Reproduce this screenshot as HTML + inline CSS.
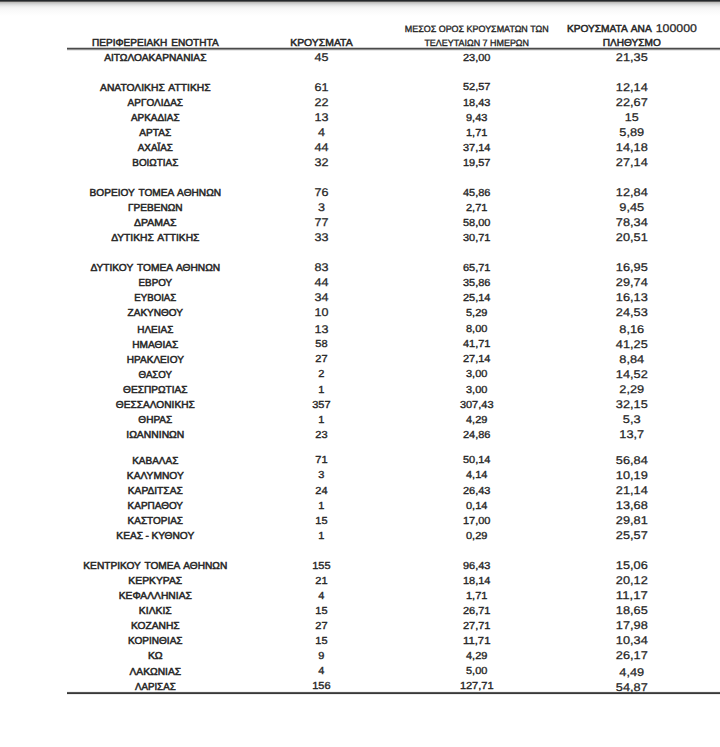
<!DOCTYPE html>
<html><head><meta charset="utf-8"><title>table</title>
<style>
html,body{margin:0;padding:0;background:#fff;}
body{width:720px;height:747px;overflow:hidden;}
svg{display:block;position:absolute;left:0;top:0;}
body{position:relative;}
.top{position:absolute;left:0;top:0;width:720px;height:16px;background:linear-gradient(to bottom,#25282b 0px,#25282b 1px,#5c5c5c 1.5px,#b9b8b6 2px,#c7c6c4 3px,#d5d6d7 4px,#e0e1e2 5px,#eaeaea 6px,#f1f1f1 7px,#f5f5f5 8px,#f9f9f9 10px,#fbfbfb 12px,#fdfdfd 14px,#fff 16px);}
text{font-family:"Liberation Sans",sans-serif;fill:#262626;text-anchor:middle;stroke:#262626;stroke-width:0.5px;word-spacing:1.2px;text-rendering:geometricPrecision;}
.a{stroke-width:0.25px;}
.n{stroke-width:0.35px;}
.h{stroke-width:0.35px;word-spacing:0;}
.k{word-spacing:-0.3px;}
</style></head><body>
<div class="top"></div>
<svg width="720" height="747" viewBox="0 0 720 747">
<rect x="67" y="47" width="653" height="1" fill="#d0d0d0"/><rect x="67" y="48" width="653" height="1" fill="#4a4a4a"/><rect x="67" y="49" width="653" height="1" fill="#909090"/><rect x="67" y="50" width="653" height="1" fill="#e8e8e8"/>
<rect x="67" y="691" width="653" height="1" fill="#f2f2f2"/><rect x="67" y="692" width="653" height="1" fill="#555"/><rect x="67" y="693" width="653" height="1" fill="#383838"/><rect x="67" y="694" width="653" height="1" fill="#ececec"/>
<text x="155.30" y="46" font-size="10.2" textLength="126.70" lengthAdjust="spacingAndGlyphs">ΠΕΡΙΦΕΡΕΙΑΚΗ ΕΝΟΤΗΤΑ</text>
<text x="321.40" y="46" font-size="10.2" textLength="62.40" lengthAdjust="spacingAndGlyphs">ΚΡΟΥΣΜΑΤΑ</text>
<text class="h" x="476.70" y="32" font-size="9.2" textLength="143.80" lengthAdjust="spacingAndGlyphs">ΜΕΣΟΣ ΟΡΟΣ ΚΡΟΥΣΜΑΤΩΝ ΤΩΝ</text>
<text class="h" x="476.70" y="46" font-size="9.2" textLength="104.60" lengthAdjust="spacingAndGlyphs">ΤΕΛΕΥΤΑΙΩΝ 7 ΗΜΕΡΩΝ</text>
<text x="566.90" y="32" font-size="10.2" style="text-anchor:start" textLength="84.80" lengthAdjust="spacingAndGlyphs">ΚΡΟΥΣΜΑΤΑ ΑΝΑ</text>
<text x="696.90" y="32" class="a" font-size="11.2" style="text-anchor:end" textLength="41.20" lengthAdjust="spacingAndGlyphs">100000</text>
<text x="631.80" y="46" font-size="10.2" textLength="58.10" lengthAdjust="spacingAndGlyphs">ΠΛΗΘΥΣΜΟ</text>
<text x="155.30" y="61" font-size="10.2" textLength="102.30" lengthAdjust="spacingAndGlyphs">ΑΙΤΩΛΟΑΚΑΡΝΑΝΙΑΣ</text>
<text class="a" x="321.40" y="61" font-size="11.2" textLength="14.00" lengthAdjust="spacingAndGlyphs">45</text>
<text class="n" x="476.70" y="61" font-size="10.2" textLength="27.52" lengthAdjust="spacingAndGlyphs">23,00</text>
<text class="a" x="631.80" y="61" font-size="11.2" textLength="31.90" lengthAdjust="spacingAndGlyphs">21,35</text>
<text x="155.30" y="91" font-size="10.2" textLength="110.60" lengthAdjust="spacingAndGlyphs">ΑΝΑΤΟΛΙΚΗΣ ΑΤΤΙΚΗΣ</text>
<text class="a" x="321.40" y="91" font-size="11.2" textLength="14.00" lengthAdjust="spacingAndGlyphs">61</text>
<text class="n" x="476.70" y="90" font-size="10.2" textLength="27.52" lengthAdjust="spacingAndGlyphs">52,57</text>
<text class="a" x="631.80" y="91" font-size="11.2" textLength="31.90" lengthAdjust="spacingAndGlyphs">12,14</text>
<text x="155.30" y="106" font-size="10.2" textLength="55.40" lengthAdjust="spacingAndGlyphs">ΑΡΓΟΛΙΔΑΣ</text>
<text class="a" x="321.40" y="106" font-size="11.2" textLength="14.00" lengthAdjust="spacingAndGlyphs">22</text>
<text class="n" x="476.70" y="106" font-size="10.2" textLength="27.52" lengthAdjust="spacingAndGlyphs">18,43</text>
<text class="a" x="631.80" y="106" font-size="11.2" textLength="31.90" lengthAdjust="spacingAndGlyphs">22,67</text>
<text x="155.30" y="121" font-size="10.2" textLength="48.70" lengthAdjust="spacingAndGlyphs">ΑΡΚΑΔΙΑΣ</text>
<text class="a" x="321.40" y="121" font-size="11.2" textLength="14.00" lengthAdjust="spacingAndGlyphs">13</text>
<text class="n" x="476.70" y="121" font-size="10.2" textLength="21.39" lengthAdjust="spacingAndGlyphs">9,43</text>
<text class="a" x="631.80" y="121" font-size="11.2" textLength="14.00" lengthAdjust="spacingAndGlyphs">15</text>
<text x="155.30" y="136" font-size="10.2" textLength="31.90" lengthAdjust="spacingAndGlyphs">ΑΡΤΑΣ</text>
<text class="a" x="321.40" y="136" font-size="11.2" textLength="7.00" lengthAdjust="spacingAndGlyphs">4</text>
<text class="n" x="476.70" y="136" font-size="10.2" textLength="21.39" lengthAdjust="spacingAndGlyphs">1,71</text>
<text class="a" x="631.80" y="136" font-size="11.2" textLength="24.90" lengthAdjust="spacingAndGlyphs">5,89</text>
<text x="155.30" y="151" font-size="10.2" textLength="35.00" lengthAdjust="spacingAndGlyphs">ΑΧΑΪΑΣ</text>
<text class="a" x="321.40" y="151" font-size="11.2" textLength="14.00" lengthAdjust="spacingAndGlyphs">44</text>
<text class="n" x="476.70" y="151" font-size="10.2" textLength="27.52" lengthAdjust="spacingAndGlyphs">37,14</text>
<text class="a" x="631.80" y="151" font-size="11.2" textLength="31.90" lengthAdjust="spacingAndGlyphs">14,18</text>
<text x="155.30" y="166" font-size="10.2" textLength="46.00" lengthAdjust="spacingAndGlyphs">ΒΟΙΩΤΙΑΣ</text>
<text class="a" x="321.40" y="166" font-size="11.2" textLength="14.00" lengthAdjust="spacingAndGlyphs">32</text>
<text class="n" x="476.70" y="166" font-size="10.2" textLength="27.52" lengthAdjust="spacingAndGlyphs">19,57</text>
<text class="a" x="631.80" y="166" font-size="11.2" textLength="31.90" lengthAdjust="spacingAndGlyphs">27,14</text>
<text x="155.30" y="196" font-size="10.2" textLength="131.40" lengthAdjust="spacingAndGlyphs">ΒΟΡΕΙΟΥ ΤΟΜΕΑ ΑΘΗΝΩΝ</text>
<text class="a" x="321.40" y="196" font-size="11.2" textLength="14.00" lengthAdjust="spacingAndGlyphs">76</text>
<text class="n" x="476.70" y="196" font-size="10.2" textLength="27.52" lengthAdjust="spacingAndGlyphs">45,86</text>
<text class="a" x="631.80" y="196" font-size="11.2" textLength="31.90" lengthAdjust="spacingAndGlyphs">12,84</text>
<text x="155.30" y="211" font-size="10.2" textLength="54.60" lengthAdjust="spacingAndGlyphs">ΓΡΕΒΕΝΩΝ</text>
<text class="a" x="321.40" y="211" font-size="11.2" textLength="7.00" lengthAdjust="spacingAndGlyphs">3</text>
<text class="n" x="476.70" y="211" font-size="10.2" textLength="21.39" lengthAdjust="spacingAndGlyphs">2,71</text>
<text class="a" x="631.80" y="211" font-size="11.2" textLength="24.90" lengthAdjust="spacingAndGlyphs">9,45</text>
<text x="155.30" y="226" font-size="10.2" textLength="42.50" lengthAdjust="spacingAndGlyphs">ΔΡΑΜΑΣ</text>
<text class="a" x="321.40" y="226" font-size="11.2" textLength="14.00" lengthAdjust="spacingAndGlyphs">77</text>
<text class="n" x="476.70" y="226" font-size="10.2" textLength="27.52" lengthAdjust="spacingAndGlyphs">58,00</text>
<text class="a" x="631.80" y="226" font-size="11.2" textLength="31.90" lengthAdjust="spacingAndGlyphs">78,34</text>
<text x="155.30" y="241" font-size="10.2" textLength="88.30" lengthAdjust="spacingAndGlyphs">ΔΥΤΙΚΗΣ ΑΤΤΙΚΗΣ</text>
<text class="a" x="321.40" y="241" font-size="11.2" textLength="14.00" lengthAdjust="spacingAndGlyphs">33</text>
<text class="n" x="476.70" y="241" font-size="10.2" textLength="27.52" lengthAdjust="spacingAndGlyphs">30,71</text>
<text class="a" x="631.80" y="241" font-size="11.2" textLength="31.90" lengthAdjust="spacingAndGlyphs">20,51</text>
<text x="155.30" y="271" font-size="10.2" textLength="129.80" lengthAdjust="spacingAndGlyphs">ΔΥΤΙΚΟΥ ΤΟΜΕΑ ΑΘΗΝΩΝ</text>
<text class="a" x="321.40" y="271" font-size="11.2" textLength="14.00" lengthAdjust="spacingAndGlyphs">83</text>
<text class="n" x="476.70" y="271" font-size="10.2" textLength="27.52" lengthAdjust="spacingAndGlyphs">65,71</text>
<text class="a" x="631.80" y="271" font-size="11.2" textLength="31.90" lengthAdjust="spacingAndGlyphs">16,95</text>
<text x="155.30" y="286" font-size="10.2" textLength="33.50" lengthAdjust="spacingAndGlyphs">ΕΒΡΟΥ</text>
<text class="a" x="321.40" y="286" font-size="11.2" textLength="14.00" lengthAdjust="spacingAndGlyphs">44</text>
<text class="n" x="476.70" y="286" font-size="10.2" textLength="27.52" lengthAdjust="spacingAndGlyphs">35,86</text>
<text class="a" x="631.80" y="286" font-size="11.2" textLength="31.90" lengthAdjust="spacingAndGlyphs">29,74</text>
<text x="155.30" y="301" font-size="10.2" textLength="41.90" lengthAdjust="spacingAndGlyphs">ΕΥΒΟΙΑΣ</text>
<text class="a" x="321.40" y="301" font-size="11.2" textLength="14.00" lengthAdjust="spacingAndGlyphs">34</text>
<text class="n" x="476.70" y="301" font-size="10.2" textLength="27.52" lengthAdjust="spacingAndGlyphs">25,14</text>
<text class="a" x="631.80" y="301" font-size="11.2" textLength="31.90" lengthAdjust="spacingAndGlyphs">16,13</text>
<text x="155.30" y="316" font-size="10.2" textLength="55.40" lengthAdjust="spacingAndGlyphs">ΖΑΚΥΝΘΟΥ</text>
<text class="a" x="321.40" y="316" font-size="11.2" textLength="14.00" lengthAdjust="spacingAndGlyphs">10</text>
<text class="n" x="476.70" y="316" font-size="10.2" textLength="21.39" lengthAdjust="spacingAndGlyphs">5,29</text>
<text class="a" x="631.80" y="316" font-size="11.2" textLength="31.90" lengthAdjust="spacingAndGlyphs">24,53</text>
<text x="155.30" y="333" font-size="10.2" textLength="36.00" lengthAdjust="spacingAndGlyphs">ΗΛΕΙΑΣ</text>
<text class="a" x="321.40" y="333" font-size="11.2" textLength="14.00" lengthAdjust="spacingAndGlyphs">13</text>
<text class="n" x="476.70" y="332" font-size="10.2" textLength="21.39" lengthAdjust="spacingAndGlyphs">8,00</text>
<text class="a" x="631.80" y="333" font-size="11.2" textLength="24.90" lengthAdjust="spacingAndGlyphs">8,16</text>
<text x="155.30" y="348" font-size="10.2" textLength="46.00" lengthAdjust="spacingAndGlyphs">ΗΜΑΘΙΑΣ</text>
<text class="n" x="321.40" y="347" font-size="10.2" textLength="12.26" lengthAdjust="spacingAndGlyphs">58</text>
<text class="n" x="476.70" y="347" font-size="10.2" textLength="27.52" lengthAdjust="spacingAndGlyphs">41,71</text>
<text class="a" x="631.80" y="348" font-size="11.2" textLength="31.90" lengthAdjust="spacingAndGlyphs">41,25</text>
<text x="155.30" y="363" font-size="10.2" textLength="57.10" lengthAdjust="spacingAndGlyphs">ΗΡΑΚΛΕΙΟΥ</text>
<text class="n" x="321.40" y="362" font-size="10.2" textLength="12.26" lengthAdjust="spacingAndGlyphs">27</text>
<text class="n" x="476.70" y="362" font-size="10.2" textLength="27.52" lengthAdjust="spacingAndGlyphs">27,14</text>
<text class="a" x="631.80" y="363" font-size="11.2" textLength="24.90" lengthAdjust="spacingAndGlyphs">8,84</text>
<text x="155.30" y="378" font-size="10.2" textLength="33.50" lengthAdjust="spacingAndGlyphs">ΘΑΣΟΥ</text>
<text class="n" x="321.40" y="377" font-size="10.2" textLength="6.13" lengthAdjust="spacingAndGlyphs">2</text>
<text class="n" x="476.70" y="377" font-size="10.2" textLength="21.39" lengthAdjust="spacingAndGlyphs">3,00</text>
<text class="a" x="631.80" y="378" font-size="11.2" textLength="31.90" lengthAdjust="spacingAndGlyphs">14,52</text>
<text x="155.30" y="393" font-size="10.2" textLength="64.40" lengthAdjust="spacingAndGlyphs">ΘΕΣΠΡΩΤΙΑΣ</text>
<text class="n" x="321.40" y="393" font-size="10.2" textLength="6.13" lengthAdjust="spacingAndGlyphs">1</text>
<text class="n" x="476.70" y="393" font-size="10.2" textLength="21.39" lengthAdjust="spacingAndGlyphs">3,00</text>
<text class="a" x="631.80" y="393" font-size="11.2" textLength="24.90" lengthAdjust="spacingAndGlyphs">2,29</text>
<text x="155.30" y="408" font-size="10.2" textLength="78.90" lengthAdjust="spacingAndGlyphs">ΘΕΣΣΑΛΟΝΙΚΗΣ</text>
<text class="n" x="321.40" y="408" font-size="10.2" textLength="18.39" lengthAdjust="spacingAndGlyphs">357</text>
<text class="n" x="476.70" y="408" font-size="10.2" textLength="33.65" lengthAdjust="spacingAndGlyphs">307,43</text>
<text class="a" x="631.80" y="408" font-size="11.2" textLength="31.90" lengthAdjust="spacingAndGlyphs">32,15</text>
<text x="155.30" y="423" font-size="10.2" textLength="33.90" lengthAdjust="spacingAndGlyphs">ΘΗΡΑΣ</text>
<text class="n" x="321.40" y="423" font-size="10.2" textLength="6.13" lengthAdjust="spacingAndGlyphs">1</text>
<text class="n" x="476.70" y="423" font-size="10.2" textLength="21.39" lengthAdjust="spacingAndGlyphs">4,29</text>
<text class="a" x="631.80" y="423" font-size="11.2" textLength="17.90" lengthAdjust="spacingAndGlyphs">5,3</text>
<text x="155.30" y="438" font-size="10.2" textLength="58.10" lengthAdjust="spacingAndGlyphs">ΙΩΑΝΝΙΝΩΝ</text>
<text class="n" x="321.40" y="438" font-size="10.2" textLength="12.26" lengthAdjust="spacingAndGlyphs">23</text>
<text class="n" x="476.70" y="438" font-size="10.2" textLength="27.52" lengthAdjust="spacingAndGlyphs">24,86</text>
<text class="a" x="631.80" y="438" font-size="11.2" textLength="24.90" lengthAdjust="spacingAndGlyphs">13,7</text>
<text x="155.30" y="464" font-size="10.2" textLength="46.20" lengthAdjust="spacingAndGlyphs">ΚΑΒΑΛΑΣ</text>
<text class="n" x="321.40" y="463" font-size="10.2" textLength="12.26" lengthAdjust="spacingAndGlyphs">71</text>
<text class="n" x="476.70" y="463" font-size="10.2" textLength="27.52" lengthAdjust="spacingAndGlyphs">50,14</text>
<text class="a" x="631.80" y="464" font-size="11.2" textLength="31.90" lengthAdjust="spacingAndGlyphs">56,84</text>
<text x="155.30" y="479" font-size="10.2" textLength="56.90" lengthAdjust="spacingAndGlyphs">ΚΑΛΥΜΝΟΥ</text>
<text class="n" x="321.40" y="478" font-size="10.2" textLength="6.13" lengthAdjust="spacingAndGlyphs">3</text>
<text class="n" x="476.70" y="478" font-size="10.2" textLength="21.39" lengthAdjust="spacingAndGlyphs">4,14</text>
<text class="a" x="631.80" y="479" font-size="11.2" textLength="31.90" lengthAdjust="spacingAndGlyphs">10,19</text>
<text x="155.30" y="494" font-size="10.2" textLength="55.00" lengthAdjust="spacingAndGlyphs">ΚΑΡΔΙΤΣΑΣ</text>
<text class="n" x="321.40" y="494" font-size="10.2" textLength="12.26" lengthAdjust="spacingAndGlyphs">24</text>
<text class="n" x="476.70" y="494" font-size="10.2" textLength="27.52" lengthAdjust="spacingAndGlyphs">26,43</text>
<text class="a" x="631.80" y="494" font-size="11.2" textLength="31.90" lengthAdjust="spacingAndGlyphs">21,14</text>
<text x="155.30" y="509" font-size="10.2" textLength="55.40" lengthAdjust="spacingAndGlyphs">ΚΑΡΠΑΘΟΥ</text>
<text class="n" x="321.40" y="509" font-size="10.2" textLength="6.13" lengthAdjust="spacingAndGlyphs">1</text>
<text class="n" x="476.70" y="509" font-size="10.2" textLength="21.39" lengthAdjust="spacingAndGlyphs">0,14</text>
<text class="a" x="631.80" y="509" font-size="11.2" textLength="31.90" lengthAdjust="spacingAndGlyphs">13,68</text>
<text x="155.30" y="524" font-size="10.2" textLength="55.40" lengthAdjust="spacingAndGlyphs">ΚΑΣΤΟΡΙΑΣ</text>
<text class="n" x="321.40" y="524" font-size="10.2" textLength="12.26" lengthAdjust="spacingAndGlyphs">15</text>
<text class="n" x="476.70" y="524" font-size="10.2" textLength="27.52" lengthAdjust="spacingAndGlyphs">17,00</text>
<text class="a" x="631.80" y="524" font-size="11.2" textLength="31.90" lengthAdjust="spacingAndGlyphs">29,81</text>
<text class="k" x="155.30" y="539" font-size="10.2" textLength="77.90" lengthAdjust="spacingAndGlyphs">ΚΕΑΣ - ΚΥΘΝΟΥ</text>
<text class="n" x="321.40" y="539" font-size="10.2" textLength="6.13" lengthAdjust="spacingAndGlyphs">1</text>
<text class="n" x="476.70" y="539" font-size="10.2" textLength="21.39" lengthAdjust="spacingAndGlyphs">0,29</text>
<text class="a" x="631.80" y="539" font-size="11.2" textLength="31.90" lengthAdjust="spacingAndGlyphs">25,57</text>
<text x="155.30" y="569" font-size="10.2" textLength="143.90" lengthAdjust="spacingAndGlyphs">ΚΕΝΤΡΙΚΟΥ ΤΟΜΕΑ ΑΘΗΝΩΝ</text>
<text class="n" x="321.40" y="569" font-size="10.2" textLength="18.39" lengthAdjust="spacingAndGlyphs">155</text>
<text class="n" x="476.70" y="569" font-size="10.2" textLength="27.52" lengthAdjust="spacingAndGlyphs">96,43</text>
<text class="a" x="631.80" y="569" font-size="11.2" textLength="31.90" lengthAdjust="spacingAndGlyphs">15,06</text>
<text x="155.30" y="584" font-size="10.2" textLength="53.90" lengthAdjust="spacingAndGlyphs">ΚΕΡΚΥΡΑΣ</text>
<text class="n" x="321.40" y="584" font-size="10.2" textLength="12.26" lengthAdjust="spacingAndGlyphs">21</text>
<text class="n" x="476.70" y="584" font-size="10.2" textLength="27.52" lengthAdjust="spacingAndGlyphs">18,14</text>
<text class="a" x="631.80" y="584" font-size="11.2" textLength="31.90" lengthAdjust="spacingAndGlyphs">20,12</text>
<text x="155.30" y="599" font-size="10.2" textLength="73.10" lengthAdjust="spacingAndGlyphs">ΚΕΦΑΛΛΗΝΙΑΣ</text>
<text class="n" x="321.40" y="599" font-size="10.2" textLength="6.13" lengthAdjust="spacingAndGlyphs">4</text>
<text class="n" x="476.70" y="599" font-size="10.2" textLength="21.39" lengthAdjust="spacingAndGlyphs">1,71</text>
<text class="a" x="631.80" y="599" font-size="11.2" textLength="31.90" lengthAdjust="spacingAndGlyphs">11,17</text>
<text x="155.30" y="614" font-size="10.2" textLength="32.90" lengthAdjust="spacingAndGlyphs">ΚΙΛΚΙΣ</text>
<text class="n" x="321.40" y="614" font-size="10.2" textLength="12.26" lengthAdjust="spacingAndGlyphs">15</text>
<text class="n" x="476.70" y="614" font-size="10.2" textLength="27.52" lengthAdjust="spacingAndGlyphs">26,71</text>
<text class="a" x="631.80" y="614" font-size="11.2" textLength="31.90" lengthAdjust="spacingAndGlyphs">18,65</text>
<text x="155.30" y="629" font-size="10.2" textLength="48.70" lengthAdjust="spacingAndGlyphs">ΚΟΖΑΝΗΣ</text>
<text class="n" x="321.40" y="629" font-size="10.2" textLength="12.26" lengthAdjust="spacingAndGlyphs">27</text>
<text class="n" x="476.70" y="629" font-size="10.2" textLength="27.52" lengthAdjust="spacingAndGlyphs">27,71</text>
<text class="a" x="631.80" y="629" font-size="11.2" textLength="31.90" lengthAdjust="spacingAndGlyphs">17,98</text>
<text x="155.30" y="644" font-size="10.2" textLength="54.60" lengthAdjust="spacingAndGlyphs">ΚΟΡΙΝΘΙΑΣ</text>
<text class="n" x="321.40" y="644" font-size="10.2" textLength="12.26" lengthAdjust="spacingAndGlyphs">15</text>
<text class="n" x="476.70" y="644" font-size="10.2" textLength="27.52" lengthAdjust="spacingAndGlyphs">11,71</text>
<text class="a" x="631.80" y="644" font-size="11.2" textLength="31.90" lengthAdjust="spacingAndGlyphs">10,34</text>
<text x="155.30" y="659" font-size="10.2" textLength="14.80" lengthAdjust="spacingAndGlyphs">ΚΩ</text>
<text class="n" x="321.40" y="659" font-size="10.2" textLength="6.13" lengthAdjust="spacingAndGlyphs">9</text>
<text class="n" x="476.70" y="659" font-size="10.2" textLength="21.39" lengthAdjust="spacingAndGlyphs">4,29</text>
<text class="a" x="631.80" y="659" font-size="11.2" textLength="31.90" lengthAdjust="spacingAndGlyphs">26,17</text>
<text x="155.30" y="675" font-size="10.2" textLength="51.70" lengthAdjust="spacingAndGlyphs">ΛΑΚΩΝΙΑΣ</text>
<text class="n" x="321.40" y="674" font-size="10.2" textLength="6.13" lengthAdjust="spacingAndGlyphs">4</text>
<text class="n" x="476.70" y="674" font-size="10.2" textLength="21.39" lengthAdjust="spacingAndGlyphs">5,00</text>
<text class="a" x="631.80" y="676" font-size="11.2" textLength="24.90" lengthAdjust="spacingAndGlyphs">4,49</text>
<text x="155.30" y="690" font-size="10.2" textLength="40.80" lengthAdjust="spacingAndGlyphs">ΛΑΡΙΣΑΣ</text>
<text class="n" x="321.40" y="689" font-size="10.2" textLength="18.39" lengthAdjust="spacingAndGlyphs">156</text>
<text class="n" x="476.70" y="689" font-size="10.2" textLength="33.65" lengthAdjust="spacingAndGlyphs">127,71</text>
<text class="a" x="631.80" y="691" font-size="11.2" textLength="31.90" lengthAdjust="spacingAndGlyphs">54,87</text>
</svg>
</body></html>
